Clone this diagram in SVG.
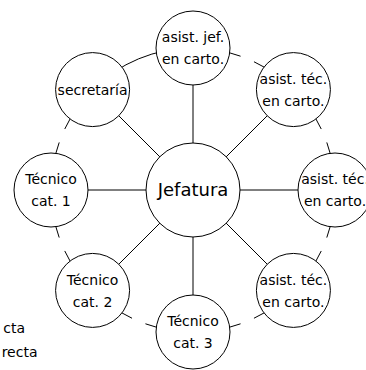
<svg xmlns="http://www.w3.org/2000/svg" width="366" height="370" viewBox="0 0 366 370">
<style>
.ln{fill:none;stroke:#000;stroke-width:1}
.dash{stroke-dasharray:48.5 14.5 48.6 100}
.nd{fill:#fff;stroke:#000;stroke-width:1}
.t{font-family:"DejaVu Sans",sans-serif;font-size:14px;fill:#000;text-anchor:middle}
.tc{font-family:"DejaVu Sans",sans-serif;font-size:18px;fill:#000;text-anchor:middle}
.lg{font-family:"DejaVu Sans",sans-serif;font-size:14px;fill:#000;text-anchor:end}
</style>
<rect width="366" height="370" fill="#fff"/>
<g id="connectors">
<line class="ln" x1="193" y1="190" x2="193" y2="48"/>
<line class="ln" x1="193" y1="190" x2="293.41" y2="89.59"/>
<line class="ln" x1="193" y1="190" x2="335" y2="190"/>
<line class="ln" x1="193" y1="190" x2="293.41" y2="290.41"/>
<line class="ln" x1="193" y1="190" x2="193" y2="332"/>
<line class="ln" x1="193" y1="190" x2="92.59" y2="290.41"/>
<line class="ln" x1="193" y1="190" x2="51" y2="190"/>
<line class="ln" x1="193" y1="190" x2="92.59" y2="89.59"/>
<path class="ln" d="M92.59,89.59 A142,142 0 0 1 193,48"/>
<path class="ln dash" d="M193,48 A142,142 0 0 1 293.41,89.59"/>
<path class="ln dash" d="M293.41,89.59 A142,142 0 0 1 335,190"/>
<path class="ln dash" d="M335,190 A142,142 0 0 1 293.41,290.41"/>
<path class="ln dash" d="M293.41,290.41 A142,142 0 0 1 193,332"/>
<path class="ln dash" d="M193,332 A142,142 0 0 1 92.59,290.41"/>
<path class="ln dash" d="M92.59,290.41 A142,142 0 0 1 51,190"/>
<path class="ln dash" d="M51,190 A142,142 0 0 1 92.59,89.59"/>
</g>
<g id="jefatura"><circle class="nd" cx="193" cy="190" r="47"/><text class="tc" x="193" y="196">Jefatura</text></g>
<g id="asist-jef"><circle class="nd" cx="193" cy="48" r="37"/><text class="t" x="193" y="42">asist. jef.</text><text class="t" x="193" y="64">en carto.</text></g>
<g id="asist-tec-1"><circle class="nd" cx="293.41" cy="89.59" r="37"/><text class="t" x="293.41" y="84">asist. téc.</text><text class="t" x="293.41" y="106">en carto.</text></g>
<g id="asist-tec-2"><circle class="nd" cx="335" cy="190" r="37"/><text class="t" x="335" y="184">asist. téc.</text><text class="t" x="335" y="206">en carto.</text></g>
<g id="asist-tec-3"><circle class="nd" cx="293.41" cy="290.41" r="37"/><text class="t" x="293.41" y="285">asist. téc.</text><text class="t" x="293.41" y="307">en carto.</text></g>
<g id="tecnico-3"><circle class="nd" cx="193" cy="332" r="37"/><text class="t" x="193" y="326">Técnico</text><text class="t" x="193" y="348">cat. 3</text></g>
<g id="tecnico-2"><circle class="nd" cx="92.59" cy="290.41" r="37"/><text class="t" x="92.59" y="285">Técnico</text><text class="t" x="92.59" y="307">cat. 2</text></g>
<g id="tecnico-1"><circle class="nd" cx="51" cy="190" r="37"/><text class="t" x="51" y="184">Técnico</text><text class="t" x="51" y="206">cat. 1</text></g>
<g id="secretaria"><circle class="nd" cx="92.59" cy="89.59" r="37"/><text class="t" x="92.59" y="95">secretaría</text></g>
<g id="legend"><text class="lg" x="25" y="333">cta</text><text class="lg" x="37.5" y="357">recta</text></g>
</svg>
